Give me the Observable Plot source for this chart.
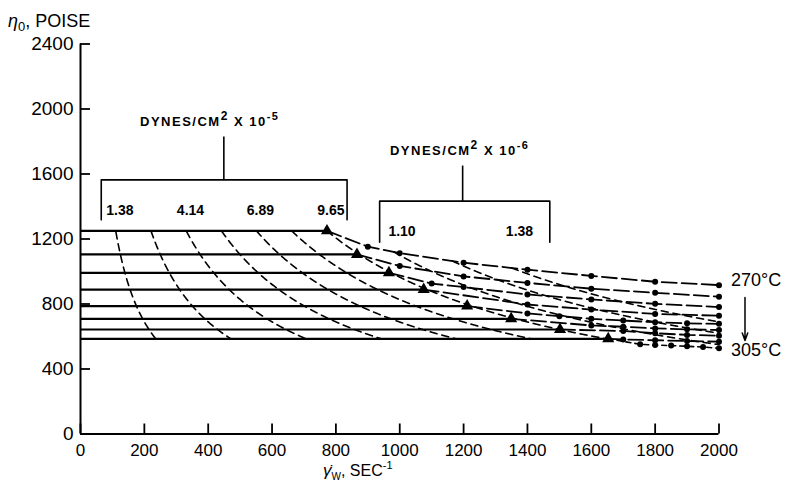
<!DOCTYPE html>
<html><head><meta charset="utf-8">
<script src="https://cdn.jsdelivr.net/npm/d3@7"></script>
<script src="https://cdn.jsdelivr.net/npm/@observablehq/plot@0.6"></script>
<style>body{margin:0;background:#fff} svg{display:block}</style>
</head><body><div id="chart"></div>
<script>
// ---------- data ----------
const temperatures = [270, 275, 280, 285, 290, 295, 300, 305];           // °C
const plateauViscosity = [1250, 1105, 992, 889, 787, 709, 643, 586];       // poise (Newtonian plateau)
const onsetRate = [772, 866, 966, 1075, 1211, 1349, 1502, 1653];          // sec^-1 (triangles)
const curveRates = [
  [900, 1000, 1200, 1400, 1600, 1800, 2000],
  [1000, 1200, 1400, 1600, 1800, 2000],
  [1100, 1200, 1400, 1600, 1800, 2000],
  [1400, 1600, 1800, 2000],
  [1400, 1500, 1600, 1700, 1800, 1900, 2000],
  [1600, 1700, 1800, 1900, 2000],
  [1700, 1800, 1900, 2000],
  [1700, 1800, 1900, 2000]
];
const curveViscosity = [
  [1153, 1113, 1054, 1011, 973, 937, 916],
  [1034, 970, 930, 894, 869, 845],
  [926, 904, 859, 828, 801, 781],
  [797, 766, 739, 728],
  [742, 725, 709, 698, 688, 681, 678],
  [668, 660, 650, 644, 640],
  [634, 620, 610, 605],
  [582, 577, 572, 568]
];
const branchRates = [1753, 1800, 1850, 1900, 1950, 2000];                 // lower dotted branch, 305 °C
const branchViscosity = [552, 547, 544, 540, 535, 528];
const stressLow = [1.38, 2.76, 4.14, 5.52, 6.89, 8.27, 9.65];            // x 10^5 dynes/cm²
const stressHigh = [1.10, 1.24, 1.38];                                    // x 10^6 dynes/cm²
const labelsLow = ["1.38", "4.14", "6.89", "9.65"];
const labelsHigh = ["1.10", "1.38"];
const xTickValues = [0, 200, 400, 600, 800, 1000, 1200, 1400, 1600, 1800, 2000];
const yTickValues = [0, 400, 800, 1200, 1600, 2000, 2400];
const tempLabels = ["270°C", "305°C"];

// ---------- derived tables ----------
const W = 787, H = 486, ML = 80, MR = 68.5, MT = 43.5, MB = 52.5;
const ux = 2000 / (W - ML - MR);     // data units per px (x)
const uy = 2400 / (H - MT - MB);     // data units per px (y)

const plateaus = temperatures.map((t, i) => ({t, x1: 0, x2: onsetRate[i], y: plateauViscosity[i]}));
const onsets = temperatures.map((t, i) => ({t, x: onsetRate[i], y: plateauViscosity[i]}));
const curvePts = [];
const dotPts = [];
temperatures.forEach((t, i) => {
  curvePts.push({t, x: onsetRate[i], y: plateauViscosity[i]});
  curveRates[i].forEach((r, j) => {
    curvePts.push({t, x: r, y: curveViscosity[i][j]});
    dotPts.push({x: r, y: curveViscosity[i][j]});
  });
});
const branchPts = [{x: onsetRate[7], y: plateauViscosity[7]}].concat(branchRates.map((r, j) => ({x: r, y: branchViscosity[j]})));
branchRates.forEach((r, j) => dotPts.push({x: r, y: branchViscosity[j]}));

function interp(xs, ys, x) {
  if (x <= xs[0]) return ys[0];
  for (let k = 1; k < xs.length; k++) if (x <= xs[k]) return ys[k-1] + (ys[k]-ys[k-1]) * (x - xs[k-1]) / (xs[k] - xs[k-1]);
  return ys[ys.length - 1];
}
const topX = [0, onsetRate[0], ...curveRates[0]], topY = [plateauViscosity[0], plateauViscosity[0], ...curveViscosity[0]];
const botX = [0, onsetRate[7], ...branchRates], botY = [plateauViscosity[7], plateauViscosity[7], ...branchViscosity];
const topEnv = g => interp(topX, topY, g), botEnv = g => interp(botX, botY, g);

const stresses = stressLow.map(s => s * 1e5).concat(stressHigh.map(s => s * 1e6));
const isoPts = [];
const isoStart = {};
stresses.forEach(tau => {
  let started = false;
  for (let g = 20; g <= 2000; g += 1) {
    const eta = tau / g;
    if (eta <= topEnv(g) + 0.5 && eta >= botEnv(g) - 0.5) {
      if (!started) { isoStart[tau] = {x: g, y: eta}; started = true; }
      isoPts.push({tau, x: g, y: eta});
    } else if (started) break;
  }
});
const lowLabelPts = labelsLow.map((s, i) => ({s, x: isoStart[stressLow[i * 2] * 1e5].x}));
const highLabelPts = labelsHigh.map((s, i) => ({s, x: isoStart[stressHigh[i * 2] * 1e6].x}));

const brackets = [
  {x1: 65, x2: 835, bar: 1564, foot: 1318, stem: 449, stemTop: 1831},
  {x1: 937, x2: 1470, bar: 1433, foot: 1180, stem: 1197, stemTop: 1652}
];
const bracketPaths = [];
brackets.forEach((b, k) => {
  bracketPaths.push({k, x: b.x1, y: b.foot}, {k, x: b.x1, y: b.bar}, {k, x: b.x2, y: b.bar}, {k, x: b.x2, y: b.foot});
});

const font = "'Liberation Sans', Arial, Helvetica, sans-serif";

const plot = Plot.plot({
  width: W, height: H,
  marginLeft: ML, marginRight: MR, marginTop: MT, marginBottom: MB,
  x: {domain: [0, 2000], axis: null},
  y: {domain: [0, 2400], axis: null},
  style: {fontFamily: font, background: "white", color: "black", overflow: "visible"},
  marks: [
    // axes
    Plot.ruleX([0], {y1: 0, y2: 2400, strokeWidth: 2}),
    Plot.ruleY([0], {x1: 0, x2: 2000, strokeWidth: 2}),
    Plot.ruleY(yTickValues, {y: d => d, x1: 0, x2: 10 * ux, strokeWidth: 1.8}),
    Plot.ruleX(xTickValues, {x: d => d, y1: 0, y2: 10 * uy, strokeWidth: 1.8}),
    Plot.text(yTickValues, {x: 0, y: d => d, text: d => String(d), textAnchor: "end", dx: -7, fontSize: 19}),
    Plot.text(xTickValues, {x: d => d, y: 0, text: d => String(d), dy: 17, fontSize: 17}),
    // iso-stress dashed curves
    Plot.line(isoPts, {x: "x", y: "y", z: "tau", strokeDasharray: "7,5", strokeWidth: 1.6}),
    // Newtonian plateaus
    Plot.link(plateaus, {x1: "x1", x2: "x2", y1: "y", y2: "y", strokeWidth: 2.2}),
    // non-Newtonian curves
    Plot.line(curvePts, {x: "x", y: "y", z: "t", strokeDasharray: "15,5", strokeWidth: 1.8}),
    Plot.line(branchPts, {x: "x", y: "y", strokeDasharray: "5,4", strokeWidth: 1.6}),
    Plot.dot(dotPts, {x: "x", y: "y", r: 3, fill: "black"}),
    Plot.dot(onsets, {x: "x", y: "y", symbol: "triangle", r: 4.5, fill: "black"}),
    // brackets
    Plot.line(bracketPaths, {x: "x", y: "y", z: "k", strokeWidth: 1.6}),
    Plot.link(brackets, {x1: "stem", x2: "stem", y1: "bar", y2: "stemTop", strokeWidth: 1.6}),
    Plot.text(lowLabelPts, {x: "x", y: brackets[0].bar, text: "s", dx: 4, dy: 31, fontSize: 14, fontWeight: "bold"}),
    Plot.text(highLabelPts, {x: "x", y: brackets[1].bar, text: "s", dx: 8, dy: 30, fontSize: 14, fontWeight: "bold"}),
    // temperature labels and arrow
    Plot.text([tempLabels[0]], {x: 2000, y: 945, text: d => d, textAnchor: "start", dx: 12, fontSize: 18}),
    Plot.text([tempLabels[1]], {x: 2000, y: 514, text: d => d, textAnchor: "start", dx: 12, fontSize: 18}),
    Plot.arrow([0], {x1: 2000 + 26 * ux, x2: 2000 + 26 * ux, y1: 840, y2: 575, headLength: 8, headAngle: 40, strokeWidth: 1.5})
  ]
});

document.getElementById("chart").appendChild(plot);

// rich text labels (sub/superscripts)
const sx = plot.scale("x"), sy = plot.scale("y");
const svg = d3.select(plot);
function rich(x, y, parts, base) {
  const t = svg.append("text").attr("x", x).attr("y", y).attr("text-anchor", "start")
    .attr("font-family", font).attr("font-size", base.size).attr("fill", "black");
  if (base.weight) t.attr("font-weight", base.weight);
  if (base.spacing) t.attr("letter-spacing", base.spacing);
  parts.forEach(p => {
    const s = t.append("tspan").text(p.text);
    if (p.size) s.attr("font-size", p.size);
    if (p.dy) s.attr("dy", p.dy);
    if (p.style) s.attr("font-style", p.style);
  });
}
rich(8, 27, [
  {text: "η", style: "italic"},
  {text: "0", size: 13, dy: 4},
  {text: ", POISE", dy: -4}
], {size: 18});
rich(323, 476, [
  {text: "γ̇", style: "italic", size: 17},
  {text: "W", size: 10, dy: 4},
  {text: ", SEC", dy: -4},
  {text: "-1", size: 11, dy: -7}
], {size: 16});
rich(sx.apply(188), sy.apply(1892), [
  {text: "DYNES/CM"},
  {text: "2", size: 12, dy: -6},
  {text: " X 10", dy: 6},
  {text: "-5", size: 11, dy: -6}
], {size: 13, weight: "bold", spacing: 1.5});
rich(sx.apply(971), sy.apply(1714), [
  {text: "DYNES/CM"},
  {text: "2", size: 12, dy: -6},
  {text: " X 10", dy: 6},
  {text: "-6", size: 11, dy: -6}
], {size: 13, weight: "bold", spacing: 1.5});
</script>
</body></html>
